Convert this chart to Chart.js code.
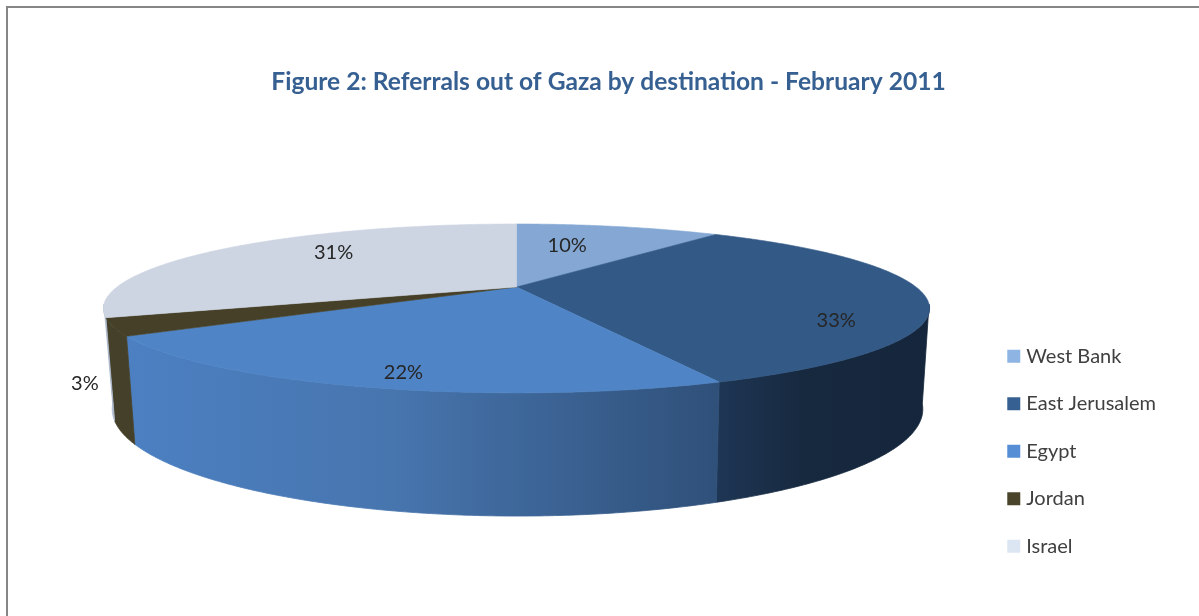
<!DOCTYPE html>
<html>
<head>
<meta charset="utf-8">
<style>html,body{margin:0;padding:0;background:#fff}canvas{display:block}</style>
<script src="https://cdn.jsdelivr.net/npm/chart.js@4"></script>
</head>
<body>
<canvas id="c" width="1199" height="616" style="width:1199px;height:616px"></canvas>
<script>
const titleText = 'Figure 2: Referrals out of Gaza by destination - February 2011';
const categories = ['West Bank', 'East Jerusalem', 'Egypt', 'Jordan', 'Israel'];
const shares = [10.25, 33.4, 22.3, 3.3, 30.75];
const legendColors = ['#8eb4e3', '#376092', '#558ed5', '#4a452a', '#dce6f2'];
const topColors = ['#84a7d3', '#335986', '#4f84c6', '#454027', '#cdd5e3'];
const wallStops = [
  [[0, '#6f8fb5'], [1, '#6f8fb5']],
  [[0, '#1e3655'], [0.4, '#17293f'], [1, '#15263c']],
  [[0, '#4c80c2'], [0.45, '#4775ae'], [1, '#2f5079']],
  [[0, '#45402a'], [1, '#45402a']],
  [[0, '#aebbcf'], [1, '#aebbcf']]
];
// screen nudge of each value label from its slice's mid-angle anchor
const labelNudge = [[-25, 3], [36, 27], [-13, 22], [-160, 70], [26, -6]];

// perspective of the disk: top face and bottom face
const view = {k: 0.254, top: {cx: 516.5, cy: 287, R: 399.5, S: 79}, bot: {cx: 517.5, cy: 382, R: 392, S: 100}};
const wallFrom = 102 * Math.PI / 180, wallTo = 258 * Math.PI / 180;

function project(face, theta, r) {
  const u = r * Math.sin(theta), v = -r * Math.cos(theta), w = 1 - view.k * v;
  return [face.cx + face.R * u / w, face.cy + face.S * v / w];
}
function tracePts(ctx, pts, first) {
  pts.forEach((p, i) => (first && i === 0) ? ctx.moveTo(p[0], p[1]) : ctx.lineTo(p[0], p[1]));
}
function rim(face, a, b) {
  const n = Math.max(2, Math.ceil(Math.abs(b - a) / 0.01)), out = [];
  for (let i = 0; i <= n; i++) out.push(project(face, a + (b - a) * i / n, 1));
  return out;
}

const pie3d = {
  id: 'pie3d',
  beforeDraw(chart) {
    const ctx = chart.ctx;
    ctx.save();
    ctx.fillStyle = '#fff';
    ctx.fillRect(0, 0, chart.width, chart.height);
    ctx.strokeStyle = '#868686';
    ctx.lineWidth = 2;
    ctx.beginPath();
    ctx.moveTo(7, chart.height);
    ctx.lineTo(7, 7);
    ctx.lineTo(chart.width, 7);
    ctx.stroke();
    ctx.restore();
  },
  beforeDatasetDraw(chart, args) {
    const ctx = chart.ctx, arcs = args.meta.data;
    const angle = el => el.startAngle + Math.PI / 2;
    const endA = el => el.endAngle + Math.PI / 2;
    ctx.save();
    // outer wall
    arcs.forEach((el, i) => {
      const a = Math.max(angle(el), wallFrom), b = Math.min(endA(el), wallTo);
      if (b <= a) return;
      const upper = rim(view.top, a, b), lower = rim(view.bot, b, a);
      const xs = upper.concat(lower).map(p => p[0]);
      const g = ctx.createLinearGradient(Math.min(...xs), 0, Math.max(...xs), 0);
      wallStops[i].forEach(s => g.addColorStop(s[0], s[1]));
      ctx.beginPath();
      tracePts(ctx, upper, true);
      tracePts(ctx, lower, false);
      ctx.closePath();
      ctx.fillStyle = g;
      ctx.strokeStyle = g;
      ctx.lineWidth = 0.8;
      ctx.fill();
      ctx.stroke();
    });
    // top face
    arcs.forEach((el, i) => {
      const c = project(view.top, 0, 0);
      ctx.beginPath();
      ctx.moveTo(c[0], c[1]);
      tracePts(ctx, rim(view.top, angle(el), endA(el)), false);
      ctx.closePath();
      ctx.fillStyle = topColors[i];
      ctx.strokeStyle = topColors[i];
      ctx.lineWidth = 0.6;
      ctx.fill();
      ctx.stroke();
    });
    // value labels
    const total = shares.reduce((s, v) => s + v, 0);
    ctx.fillStyle = '#262626';
    ctx.font = '20px Lato';
    ctx.textAlign = 'center';
    ctx.textBaseline = 'middle';
    arcs.forEach((el, i) => {
      const p = project(view.top, (angle(el) + endA(el)) / 2, 0.7);
      ctx.fillText(Math.round(shares[i] / total * 100) + '%', p[0] + labelNudge[i][0], p[1] + labelNudge[i][1]);
    });
    ctx.restore();
    return false;
  }
};

new Chart(document.getElementById('c'), {
  type: 'pie',
  data: {
    labels: categories,
    datasets: [{
      data: shares,
      backgroundColor: legendColors,
      borderColor: legendColors,
      borderWidth: 8
    }]
  },
  plugins: [pie3d],
  options: {
    responsive: false,
    animation: false,
    layout: {padding: {left: 51, right: 33}},
    plugins: {
      tooltip: {enabled: false},
      title: {
        display: true,
        text: titleText,
        color: '#376092',
        font: {family: 'Lato', size: 24.6, weight: 'bold'},
        padding: {top: 67, bottom: 190}
      },
      legend: {
        position: 'right',
        fullSize: false,
        labels: {
          boxWidth: 5,
          boxHeight: 5,
          padding: 27.5,
          color: '#404040',
          font: {family: 'Lato', size: 20}
        }
      }
    }
  }
});
</script>
</body>
</html>
